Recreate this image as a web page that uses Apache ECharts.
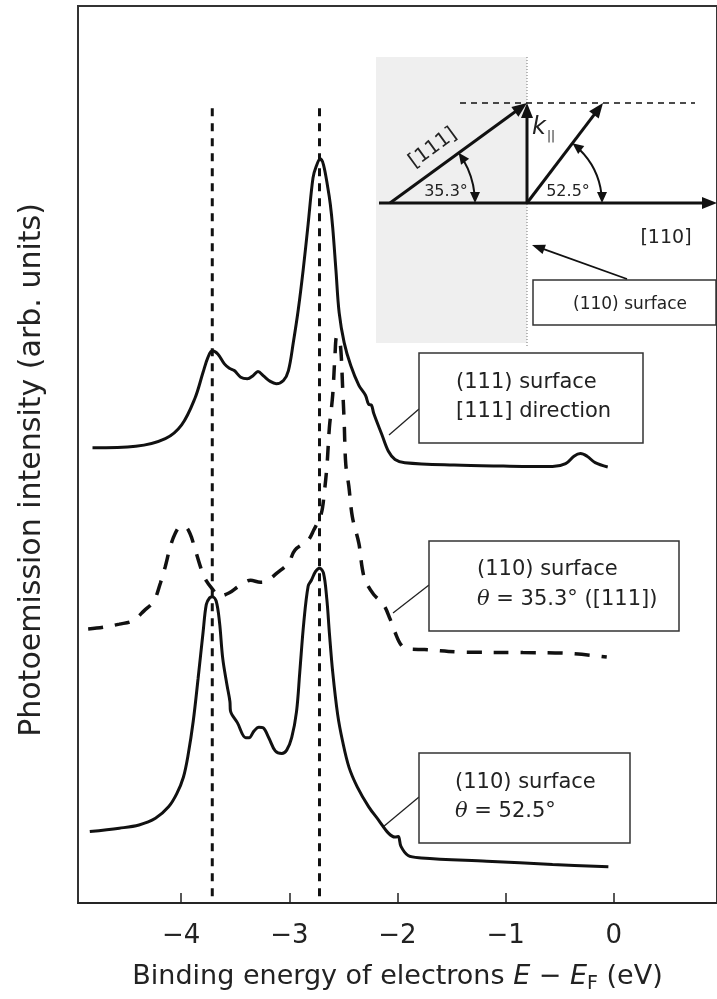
<!DOCTYPE html>
<html>
<head>
<meta charset="utf-8">
<script src="https://cdn.jsdelivr.net/npm/echarts@6/dist/echarts.min.js"></script>
<style>
  html, body { margin: 0; padding: 0; background: #fff; }
  #main { width: 717px; height: 999px; }
</style>
</head>
<body>
<div id="main"></div>
<script type="text/javascript">
// 数据: 能量 (eV) 与强度 (arb. units)
var energyTicks = [-4, -3, -2, -1, 0];
var peakLines = [-3.712, -2.721];

// (111) surface, [111] direction
var surface111 = [
  [-4.819, 50.74], [-4.419, 50.91], [-4.146, 51.76], [-3.995, 53.30], [-3.873, 56.24],
  [-3.797, 59.17], [-3.752, 60.83], [-3.712, 61.56], [-3.661, 61.20], [-3.600, 60.10],
  [-3.554, 59.61], [-3.509, 59.36], [-3.449, 58.62], [-3.388, 58.45], [-3.333, 58.81],
  [-3.290, 59.25], [-3.236, 58.73], [-3.176, 58.15], [-3.121, 57.90], [-3.054, 58.26],
  [-3.008, 59.36], [-2.963, 62.48], [-2.917, 66.16], [-2.872, 70.56], [-2.826, 75.69],
  [-2.781, 80.84], [-2.751, 82.13], [-2.714, 82.96], [-2.684, 82.30], [-2.644, 79.74],
  [-2.621, 77.90], [-2.599, 75.33], [-2.569, 70.56], [-2.539, 65.78], [-2.493, 62.48],
  [-2.432, 59.91], [-2.357, 57.71], [-2.296, 56.61], [-2.266, 55.58], [-2.241, 55.51],
  [-2.220, 54.59], [-2.144, 52.20], [-2.084, 50.36], [-2.023, 49.45], [-1.932, 49.09],
  [-1.477, 48.82], [-1.022, 48.71], [-0.567, 48.65], [-0.446, 48.98], [-0.369, 49.81],
  [-0.309, 50.11], [-0.248, 49.81], [-0.173, 49.09], [-0.057, 48.60]
];

// (110) surface, θ = 35.3° ([111])
var surface110a = [
  [-4.859, 30.54], [-4.722, 30.73], [-4.571, 31.09], [-4.449, 31.46], [-4.343, 32.57],
  [-4.252, 33.67], [-4.191, 35.68], [-4.146, 37.52], [-4.100, 39.72], [-4.055, 41.19],
  [-4.009, 41.93], [-3.964, 41.93], [-3.918, 41.19], [-3.873, 39.54], [-3.827, 37.70],
  [-3.782, 36.23], [-3.712, 35.02], [-3.645, 34.22], [-3.554, 34.58], [-3.463, 35.35],
  [-3.358, 35.98], [-3.267, 35.76], [-3.206, 35.90], [-3.115, 36.78], [-3.008, 37.89],
  [-2.948, 39.35], [-2.826, 40.45], [-2.775, 41.55], [-2.705, 43.39], [-2.678, 45.59],
  [-2.651, 48.90], [-2.630, 52.94], [-2.599, 56.61], [-2.578, 61.01], [-2.562, 63.11],
  [-2.541, 63.00], [-2.523, 61.56], [-2.508, 57.71], [-2.493, 53.67], [-2.478, 48.90],
  [-2.450, 46.48], [-2.417, 43.03], [-2.357, 40.09], [-2.326, 37.33], [-2.296, 35.90],
  [-2.220, 34.39], [-2.129, 33.26], [-2.068, 31.64], [-2.023, 30.18], [-1.962, 28.71],
  [-1.886, 28.30], [-1.750, 28.25], [-1.386, 27.97], [-0.840, 27.92], [-0.476, 27.86],
  [-0.066, 27.42]
];

// (110) surface, θ = 52.5°
var surface110b = [
  [-4.844, 7.96], [-4.571, 8.34], [-4.389, 8.70], [-4.237, 9.44], [-4.116, 10.72],
  [-4.040, 12.19], [-3.979, 14.02], [-3.934, 16.60], [-3.888, 20.26], [-3.843, 25.03],
  [-3.797, 30.18], [-3.767, 33.29], [-3.736, 34.03], [-3.712, 34.14], [-3.676, 33.67],
  [-3.645, 31.28], [-3.615, 27.24], [-3.576, 24.31], [-3.549, 22.47], [-3.544, 21.44],
  [-3.479, 20.08], [-3.403, 18.43], [-3.372, 18.43], [-3.327, 19.16], [-3.281, 19.60],
  [-3.242, 19.53], [-3.190, 18.43], [-3.130, 16.96], [-3.069, 16.66], [-3.024, 17.04],
  [-2.978, 18.43], [-2.933, 21.37], [-2.903, 25.77], [-2.866, 31.28], [-2.826, 35.32],
  [-2.796, 35.98], [-2.757, 36.97], [-2.721, 37.33], [-2.684, 36.78], [-2.653, 33.84],
  [-2.630, 30.18], [-2.599, 25.77], [-2.553, 21.00], [-2.508, 18.06], [-2.448, 15.12],
  [-2.371, 12.92], [-2.266, 10.72], [-2.175, 9.25], [-2.084, 7.79], [-2.023, 7.35],
  [-1.993, 7.41], [-1.968, 6.31], [-1.902, 5.29], [-1.780, 5.03], [-1.174, 4.66],
  [-0.567, 4.30], [-0.051, 4.04]
];
var peakLineTop = 88.6;

var FONT = 'DejaVu Sans';
var INK = '#111';

// 箭头 (inset 示意图)
function arrowHead(fx, fy, tx, ty, len, half) {
  var dx = tx - fx, dy = ty - fy, d = Math.sqrt(dx * dx + dy * dy);
  var ux = dx / d, uy = dy / d;
  var bx = tx - ux * len, by = ty - uy * len;
  return {
    type: 'polygon',
    shape: { points: [[tx, ty], [bx - uy * half, by + ux * half], [bx + uy * half, by - ux * half]] },
    style: { fill: INK }
  };
}
function arrow(fx, fy, tx, ty, w, len, half) {
  var dx = tx - fx, dy = ty - fy, d = Math.sqrt(dx * dx + dy * dy);
  var ex = tx - dx / d * (len - 2), ey = ty - dy / d * (len - 2);
  return [
    { type: 'line', shape: { x1: fx, y1: fy, x2: ex, y2: ey }, style: { stroke: INK, lineWidth: w } },
    arrowHead(fx, fy, tx, ty, len, half)
  ];
}
function angleArc(cx, cy, r, deg, len, half) {
  var t = deg * Math.PI / 180;
  var cut = (len - 2) / r;
  var out = [{
    type: 'arc',
    shape: { cx: cx, cy: cy, r: r, startAngle: -t + cut, endAngle: -cut, clockwise: true },
    style: { stroke: INK, lineWidth: 2, fill: null }
  }];
  // 轴一端 (向下)
  out.push(arrowHead(cx + r, cy - 4, cx + r, cy, len, half));
  // 斜线一端
  var tx = cx + r * Math.cos(t), ty = cy - r * Math.sin(t);
  out.push(arrowHead(tx + Math.sin(t) * 4, ty + Math.cos(t) * 4, tx, ty, len, half));
  return out;
}
function calloutBox(x, y, w, h, lines, leader) {
  var els = [
    { type: 'line', shape: { x1: leader[0], y1: leader[1], x2: leader[2], y2: leader[3] }, style: { stroke: '#222', lineWidth: 1.3 } },
    { type: 'rect', shape: { x: x, y: y, width: w, height: h }, style: { fill: '#fff', stroke: '#333', lineWidth: 1.5 } }
  ];
  lines.forEach(function (ln) {
    els.push({
      type: 'text', x: ln[1], y: ln[2],
      style: {
        text: ln[0], fontFamily: FONT, fontSize: 21, fill: '#222', align: 'left', verticalAlign: 'middle',
        rich: { t: { fontFamily: 'DejaVu Serif', fontStyle: 'italic', fontSize: 21, fill: '#222' } }
      }
    });
  });
  return els;
}

var graphics = [].concat(
  // inset 背景
  [
    { type: 'rect', shape: { x: 376, y: 57, width: 151, height: 286 }, style: { fill: '#efefef' } },
    { type: 'line', shape: { x1: 527, y1: 57, x2: 527, y2: 348 }, style: { stroke: '#777', lineWidth: 1, lineDash: [1, 2] } },
    { type: 'line', shape: { x1: 460, y1: 103, x2: 695, y2: 103 }, style: { stroke: INK, lineWidth: 1.5, lineDash: [6, 5] } }
  ],
  arrow(379, 203, 717, 203, 3, 15, 6),
  arrow(390, 203, 527, 103, 3, 15, 6),
  arrow(527, 203, 527, 103, 3, 15, 6),
  arrow(527, 203, 603, 103, 3, 15, 6),
  angleArc(390, 203, 85, 36.2, 11, 5),
  angleArc(527, 203, 75, 52.7, 11, 5),
  [
    { type: 'text', x: 433, y: 148, rotation: 36.2 * Math.PI / 180,
      style: { text: '[111]', fontFamily: FONT, fontSize: 20, fill: '#222', align: 'center', verticalAlign: 'middle' } },
    { type: 'text', x: 446, y: 192, style: { text: '35.3°', fontFamily: FONT, fontSize: 16, fill: '#222', align: 'center', verticalAlign: 'middle' } },
    { type: 'text', x: 568, y: 192, style: { text: '52.5°', fontFamily: FONT, fontSize: 16, fill: '#222', align: 'center', verticalAlign: 'middle' } },
    { type: 'text', x: 539, y: 128, style: { text: 'k', fontFamily: FONT, fontStyle: 'italic', fontSize: 24, fill: '#222', align: 'center', verticalAlign: 'middle' } },
    { type: 'text', x: 551, y: 137, style: { text: '||', fontFamily: FONT, fontSize: 12, fill: '#222', align: 'center', verticalAlign: 'middle' } },
    { type: 'text', x: 666, y: 238, style: { text: '[110]', fontFamily: FONT, fontSize: 19, fill: '#222', align: 'center', verticalAlign: 'middle' } },
    { type: 'rect', shape: { x: 533, y: 280, width: 183, height: 45 }, style: { fill: '#fff', stroke: '#333', lineWidth: 1.5 } },
    { type: 'text', x: 630, y: 305, style: { text: '(110) surface', fontFamily: FONT, fontSize: 17, fill: '#222', align: 'center', verticalAlign: 'middle' } }
  ],
  arrow(627, 279, 532, 245, 1.8, 13, 5),
  // 图中说明框
  calloutBox(419, 353, 224, 90, [['(111) surface', 456, 383], ['[111] direction', 456, 412]], [419, 409, 389, 435]),
  calloutBox(429, 541, 250, 90, [['(110) surface', 477, 570], ['{t|θ} = 35.3° ([111])', 477, 600]], [429, 585, 393, 613]),
  calloutBox(419, 753, 211, 90, [['(110) surface', 455, 783], ['{t|θ} = 52.5°', 455, 812]], [419, 797, 383, 827]),
  // 纵轴标题
  [
    { type: 'text', x: 32, y: 470, rotation: Math.PI / 2,
      style: { text: 'Photoemission intensity (arb. units)', fontFamily: FONT, fontSize: 30, fill: '#222', align: 'center', verticalAlign: 'middle' } }
  ]
);

var myEcharts = echarts.init(document.getElementById('main'), null, { renderer: 'canvas' });
var option = {
  animation: false,
  backgroundColor: '#fff',
  grid: {
    left: 78, top: 6, right: -10, bottom: 85,
    show: true, borderColor: '#333', borderWidth: 2, backgroundColor: 'transparent'
  },
  xAxis: {
    type: 'value',
    min: -4.953,
    max: 0.953,
    name: 'Binding energy of electrons {i|E} − {i|E}{s|F} (eV)',
    nameLocation: 'middle',
    nameGap: 56,
    nameTextStyle: {
      fontFamily: FONT, fontSize: 27, color: '#222',
      rich: {
        i: { fontFamily: FONT, fontStyle: 'italic', fontSize: 27, color: '#222' },
        s: { fontFamily: FONT, fontSize: 19, color: '#222', padding: [16, 0, 0, 0] }
      }
    },
    axisLine: { show: true, onZero: false, lineStyle: { color: '#222', width: 1.5 } },
    axisTick: { show: true, inside: true, length: 10, customValues: energyTicks, lineStyle: { color: '#222', width: 1.5 } },
    axisLabel: {
      customValues: energyTicks,
      margin: 20,
      fontFamily: FONT, fontSize: 26, color: '#222',
      formatter: function (v) { return v < 0 ? '\u2212' + Math.abs(v) : String(v); }
    },
    splitLine: { show: false }
  },
  yAxis: {
    type: 'value',
    min: 0,
    max: 100,
    axisLine: { show: true, onZero: false, lineStyle: { color: '#333', width: 2 } },
    axisTick: { show: false },
    axisLabel: { show: false },
    splitLine: { show: false }
  },
  series: [
    {
      type: 'line', name: 'peak -3.7', data: [[peakLines[0], peakLineTop], [peakLines[0], 0]],
      showSymbol: false, silent: true,
      lineStyle: { color: INK, width: 3, type: [8, 7] }
    },
    {
      type: 'line', name: 'peak -2.7', data: [[peakLines[1], peakLineTop], [peakLines[1], 0]],
      showSymbol: false, silent: true,
      lineStyle: { color: INK, width: 3, type: [8, 7] }
    },
    {
      type: 'line', name: '(111) surface [111] direction', data: surface111,
      showSymbol: false, smooth: 0.35,
      lineStyle: { color: INK, width: 3 }
    },
    {
      type: 'line', name: '(110) surface θ = 35.3°', data: surface110a,
      showSymbol: false, smooth: 0.35,
      lineStyle: { color: INK, width: 3.5, type: [15, 12] }
    },
    {
      type: 'line', name: '(110) surface θ = 52.5°', data: surface110b,
      showSymbol: false, smooth: 0.35,
      lineStyle: { color: INK, width: 3 }
    }
  ],
  graphic: { elements: graphics }
};
myEcharts.setOption(option);
</script>
</body>
</html>
